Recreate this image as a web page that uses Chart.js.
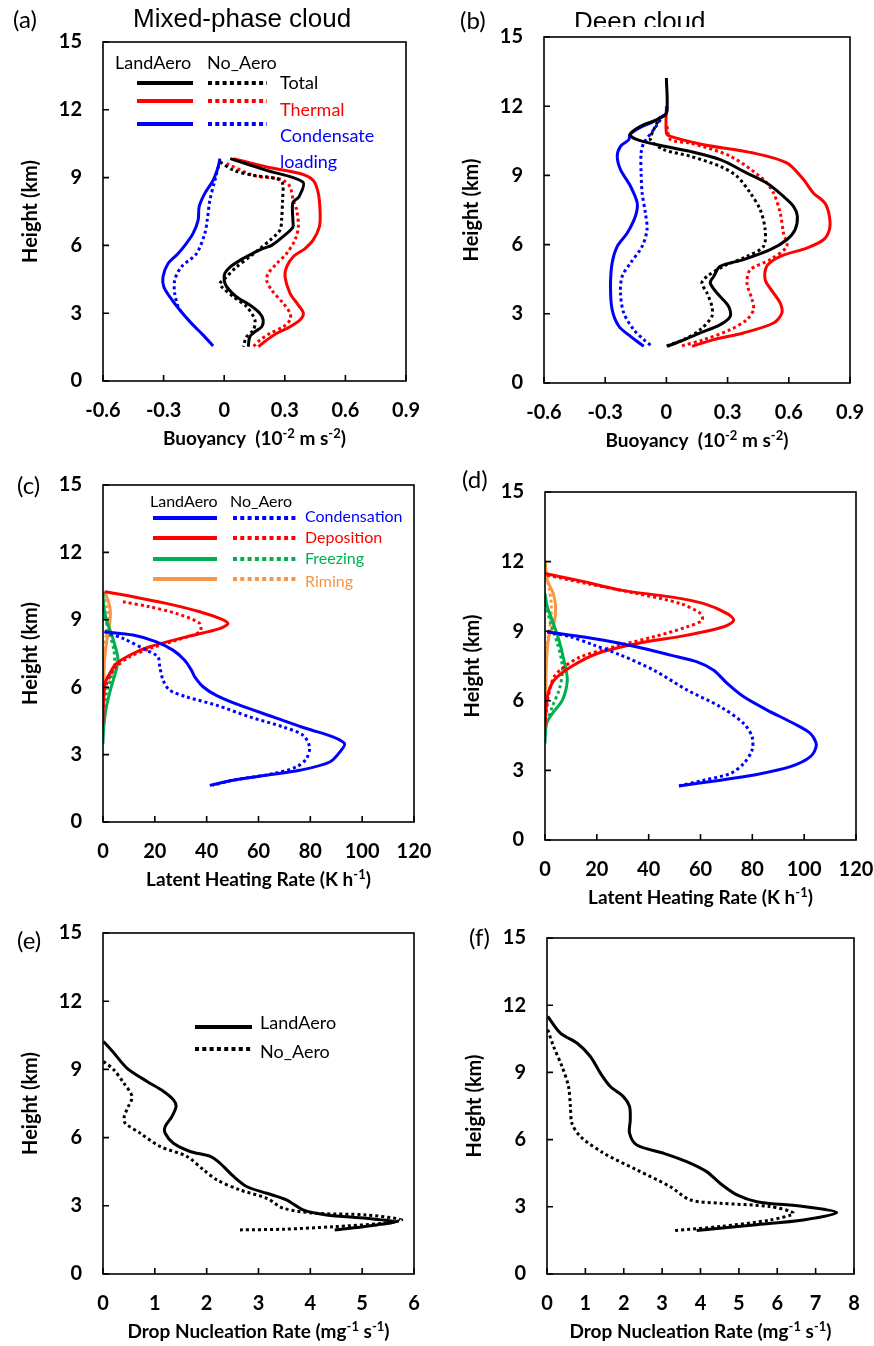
<!DOCTYPE html>
<html>
<head>
<meta charset="utf-8">
<script src="https://cdn.jsdelivr.net/npm/chart.js@4.4.0/dist/chart.umd.min.js"></script>
<style>
  body { margin: 0; background: #fff; width: 874px; height: 1346px; overflow: hidden; position: relative; font-family: Lato, sans-serif; }
  canvas { position: absolute; }
  .lbl { position: absolute; font-family: Lato, sans-serif; font-size: 24px; line-height: 24px; white-space: nowrap; }
  .ttl { position: absolute; font-family: "Liberation Sans", Arial, sans-serif; font-size: 26px; line-height: 26px; white-space: nowrap; }
  .clip { position: absolute; overflow: hidden; }
</style>
</head>
<body>
<canvas id="pa" width="426" height="435" style="left:0px;top:22px"></canvas>
<canvas id="pb" width="429" height="442" style="left:441px;top:17px"></canvas>
<canvas id="pc" width="434" height="433" style="left:0px;top:465px"></canvas>
<canvas id="pd" width="432" height="444" style="left:442px;top:472px"></canvas>
<canvas id="pe" width="434" height="437" style="left:0px;top:913px"></canvas>
<canvas id="pf" width="430" height="432" style="left:444px;top:918px"></canvas>

<div class="lbl" style="left:13px;top:7px">(a)</div>
<div class="ttl" style="left:133px;top:5px">Mixed-phase cloud</div>
<div class="lbl" style="left:460px;top:8px">(b)</div>
<div class="clip" style="left:570px;top:0px;width:200px;height:27px"><div class="ttl" style="left:4px;top:8px">Deep cloud</div></div>
<div class="lbl" style="left:17px;top:473px">(c)</div>
<div class="lbl" style="left:462px;top:467px">(d)</div>
<div class="lbl" style="left:17px;top:928px">(e)</div>
<div class="lbl" style="left:469px;top:925px">(f)</div>

<script>
// ---------------- data: [value, height km] ----------------
// (a) mixed-phase cloud buoyancy
const aTotalLand = [[0.03,9.84],[0.21,9.32],[0.39,8.80],[0.37,8.15],[0.34,7.90],[0.34,7.10],[0.34,6.80],[0.29,6.38],[0.235,6.00],[0.19,5.86],[0.14,5.64],[0.08,5.35],[0.03,5.05],[0.003,4.76],[0.0,4.46],[0.012,4.17],[0.06,3.73],[0.127,3.36],[0.177,2.99],[0.193,2.70],[0.186,2.40],[0.152,2.18],[0.127,1.96],[0.119,1.52]];
const aTotalNo = [[-0.02,9.69],[0.045,9.33],[0.144,9.10],[0.26,8.96],[0.289,8.74],[0.289,8.0],[0.284,7.12],[0.276,6.67],[0.227,6.23],[0.177,5.86],[0.127,5.5],[0.061,5.05],[0.012,4.61],[-0.021,4.32],[-0.013,4.17],[0.045,3.73],[0.111,3.29],[0.152,2.70],[0.144,2.25],[0.111,1.96],[0.094,1.52]];
const aThermLand = [[0.045,9.84],[0.21,9.47],[0.375,9.18],[0.44,8.88],[0.466,8.30],[0.475,7.41],[0.471,6.82],[0.44,6.23],[0.40,5.86],[0.342,5.5],[0.309,5.05],[0.301,4.61],[0.326,3.88],[0.367,3.36],[0.392,2.99],[0.375,2.70],[0.326,2.40],[0.26,2.11],[0.21,1.81],[0.169,1.52]];
const aThermNo = [[0.012,9.62],[0.144,9.10],[0.26,8.96],[0.293,8.88],[0.326,8.59],[0.342,8.0],[0.359,7.56],[0.367,6.82],[0.35,6.23],[0.309,5.64],[0.26,5.2],[0.218,4.76],[0.21,4.46],[0.235,4.02],[0.293,3.43],[0.326,2.99],[0.326,2.70],[0.293,2.40],[0.227,2.11],[0.177,1.81],[0.144,1.52]];
const aLoadLand = [[-0.021,9.84],[-0.03,9.47],[-0.055,8.88],[-0.096,8.30],[-0.124,7.71],[-0.129,7.12],[-0.154,6.53],[-0.187,6.09],[-0.228,5.64],[-0.278,5.20],[-0.303,4.61],[-0.299,4.17],[-0.27,3.73],[-0.22,3.14],[-0.162,2.55],[-0.104,2.03],[-0.055,1.55]];
const aLoadNo = [[-0.021,9.77],[-0.046,8.88],[-0.071,8.0],[-0.084,7.12],[-0.096,6.53],[-0.137,5.64],[-0.212,5.05],[-0.245,4.46],[-0.245,3.88],[-0.228,3.29],[-0.212,3.06]];

// (b) deep cloud buoyancy
const bTotalLand = [[0,13.22],[0,11.7],[-0.046,11.42],[-0.127,11.13],[-0.179,10.77],[-0.143,10.55],[-0.046,10.33],[0.117,10.04],[0.264,9.68],[0.395,9.10],[0.492,8.67],[0.574,8.09],[0.623,7.66],[0.642,7.23],[0.631,6.65],[0.59,6.21],[0.509,5.78],[0.378,5.35],[0.264,5.06],[0.232,4.62],[0.215,4.34],[0.248,3.90],[0.305,3.32],[0.313,2.89],[0.264,2.53],[0.166,2.17],[0.068,1.81],[0.003,1.59]];
const bTotalNo = [[-0.029,11.56],[-0.062,10.98],[-0.078,10.55],[-0.013,10.12],[0.117,9.83],[0.264,9.39],[0.346,8.96],[0.411,8.24],[0.46,7.51],[0.484,6.65],[0.476,5.92],[0.395,5.49],[0.28,5.06],[0.199,4.62],[0.174,4.34],[0.199,3.90],[0.223,3.32],[0.223,2.89],[0.166,2.31],[0.085,1.88],[-0.005,1.59]];
const bThermLand = [[0,12.0],[0,10.84],[0.02,10.69],[0.183,10.33],[0.427,9.97],[0.59,9.54],[0.672,8.82],[0.72,8.24],[0.777,7.80],[0.799,7.23],[0.799,6.65],[0.77,6.21],[0.688,5.85],[0.558,5.49],[0.492,5.06],[0.484,4.48],[0.525,3.90],[0.558,3.47],[0.566,3.03],[0.525,2.60],[0.378,2.17],[0.232,1.88],[0.126,1.59]];
const bThermNo = [[0.003,11.13],[0.02,10.55],[0.117,10.40],[0.313,9.83],[0.476,8.82],[0.525,8.24],[0.558,7.37],[0.574,6.50],[0.59,5.92],[0.509,5.35],[0.411,4.91],[0.395,4.34],[0.42,3.61],[0.427,3.18],[0.395,2.75],[0.313,2.31],[0.183,1.88],[0.068,1.59]];
const bLoadLand = [[0.003,12.0],[0,11.7],[-0.062,11.34],[-0.135,11.05],[-0.179,10.77],[-0.184,10.55],[-0.225,10.26],[-0.241,9.83],[-0.225,9.25],[-0.176,8.53],[-0.143,7.80],[-0.152,7.23],[-0.192,6.50],[-0.241,5.92],[-0.266,5.20],[-0.274,4.19],[-0.266,3.18],[-0.233,2.46],[-0.176,2.02],[-0.111,1.59]];
const bLoadNo = [[-0.013,11.63],[-0.062,10.98],[-0.111,10.40],[-0.124,9.97],[-0.124,9.10],[-0.119,8.24],[-0.103,7.37],[-0.095,6.65],[-0.119,5.92],[-0.176,5.20],[-0.217,4.62],[-0.225,3.90],[-0.209,3.03],[-0.16,2.31],[-0.111,1.88],[-0.07,1.59]];

// (c) mixed-phase latent heating
const cCondLand = [[0.6,8.47],[11.6,8.32],[20.6,8.02],[27.0,7.65],[31.5,7.20],[34.1,6.76],[35.4,6.46],[38.6,6.02],[43.7,5.64],[52.7,5.20],[65.6,4.68],[78.5,4.16],[88.7,3.79],[93.2,3.49],[91.9,3.19],[87.5,2.67],[75.9,2.30],[63.0,2.08],[50.2,1.86],[41.2,1.63]];
const cCondNo = [[0.6,8.47],[7.7,8.17],[16.7,7.65],[21.2,7.35],[21.9,6.91],[23.2,6.31],[25.7,5.87],[32.2,5.57],[43.7,5.20],[56.6,4.68],[69.5,4.23],[77.2,3.86],[79.7,3.34],[78.5,2.82],[74.6,2.45],[65.6,2.15],[50.2,1.86],[42.4,1.63]];
const cDepLand = [[0.6,10.25],[11.6,10.03],[24.4,9.73],[37.3,9.36],[45.0,9.06],[48.2,8.84],[45.0,8.61],[32.2,8.24],[18.0,7.80],[11.6,7.50],[5.1,7.05],[2.6,6.61],[1.0,6.24],[0.4,5.72],[0.1,5.12],[0,4.38]];
const cDepNo = [[7.7,9.80],[18.0,9.58],[28.3,9.28],[37.3,8.84],[37.3,8.47],[28.3,8.09],[18.0,7.72],[10.3,7.35],[5.1,6.91],[2.6,6.46],[0.6,5.87],[0.1,5.12]];
const cFrzLand = [[0,10.25],[0.3,9.58],[1.3,8.99],[3.2,8.39],[5.1,7.65],[5.8,7.20],[5.1,6.76],[3.2,6.02],[1.3,5.12],[0.3,4.23],[0,3.49]];
const cFrzNo = [[0.6,9.13],[2.6,8.39],[4.2,7.65],[4.5,7.05],[3.2,6.46],[1.3,5.72],[0.3,4.83]];
const cRimLand = [[0.6,10.25],[1.9,9.88],[2.8,9.43],[2.6,8.84],[1.5,8.09],[0.6,7.20],[0.3,6.02],[0,5.12]];
const cRimNo = [[0.3,10.18],[1.3,9.58],[1.9,9.13],[1.3,8.39],[0.5,7.50],[0.1,6.46]];

// (d) deep cloud latent heating
const dCondLand = [[0.9,8.97],[9.9,8.83],[22.7,8.61],[35.6,8.32],[48.4,7.97],[58.7,7.68],[65.1,7.32],[70.3,6.75],[76.7,6.17],[85.7,5.60],[96.0,5.02],[102.4,4.59],[104.7,4.09],[102.4,3.59],[94.7,3.16],[80.6,2.80],[67.7,2.58],[51.7,2.33]];
const dCondNo = [[0.9,8.97],[9.9,8.76],[18.9,8.40],[29.2,7.97],[42.0,7.32],[54.9,6.46],[67.7,5.74],[76.7,5.02],[79.9,4.45],[79.9,3.88],[76.7,3.30],[71.6,2.87],[61.3,2.58],[51.7,2.33]];
const dDepLand = [[0.3,11.48],[12.5,11.20],[29.2,10.77],[48.4,10.48],[61.3,10.19],[70.3,9.76],[72.8,9.47],[69.0,9.19],[54.9,8.83],[35.6,8.47],[20.2,8.04],[9.9,7.46],[3.5,6.89],[1.2,6.32],[0.4,5.60],[0,4.88]];
const dDepNo = [[0.9,11.41],[16.3,11.05],[35.6,10.62],[52.3,10.19],[60.0,9.76],[60.6,9.47],[54.9,9.19],[42.0,8.76],[26.6,8.33],[13.7,7.89],[7.3,7.46],[3.5,7.03],[1.5,6.32],[0.4,5.45]];
const dFrzLand = [[0,10.62],[0.9,10.05],[2.8,9.47],[5.4,8.61],[7.3,7.75],[8.6,6.89],[6.7,6.03],[2.8,5.45],[0.6,5.02],[0,4.16]];
const dFrzNo = [[0.3,10.19],[2.2,9.33],[4.8,8.47],[6.4,7.75],[6.7,7.18],[5.4,6.46],[2.8,5.74],[0.6,5.02]];
const dRimLand = [[0,12.06],[0.9,11.20],[3.2,10.62],[4.1,10.05],[3.5,9.33],[1.5,8.76],[0.6,7.75],[0.3,6.32],[0,5.17]];
const dRimNo = [[0,11.63],[1.5,10.91],[2.4,10.19],[2.2,9.47],[1.2,8.76],[0.4,7.75],[0,6.32]];

// (e)/(f) drop nucleation rate
const eLand = [[0.01,10.23],[0.21,9.72],[0.46,9.06],[0.85,8.47],[1.17,8.03],[1.36,7.66],[1.41,7.37],[1.33,6.93],[1.20,6.49],[1.20,6.19],[1.36,5.75],[1.68,5.39],[2.07,5.17],[2.26,4.87],[2.52,4.29],[2.77,3.85],[3.16,3.55],[3.54,3.26],[3.86,2.82],[4.31,2.60],[5.08,2.45],[5.63,2.30],[5.28,2.16],[4.76,2.01],[4.47,1.94]];
const eNo = [[0.01,9.35],[0.21,8.98],[0.40,8.40],[0.56,7.81],[0.49,7.37],[0.41,6.93],[0.43,6.63],[0.72,6.19],[1.10,5.61],[1.62,5.17],[1.94,4.58],[2.20,4.14],[2.64,3.70],[3.16,3.33],[3.48,2.89],[4.12,2.67],[5.08,2.60],[5.76,2.38],[5.40,2.23],[4.44,2.08],[3.48,1.97],[2.64,1.94]];
const fLand = [[0.02,11.50],[0.35,10.75],[0.78,10.31],[1.13,9.71],[1.39,8.97],[1.65,8.37],[1.99,7.92],[2.15,7.48],[2.17,6.88],[2.15,6.29],[2.34,5.76],[3.04,5.39],[3.64,5.02],[4.16,4.57],[4.51,4.05],[4.95,3.53],[5.47,3.23],[6.68,3.01],[7.55,2.74],[6.68,2.41],[5.38,2.19],[3.90,1.94]];
const fNo = [[0.02,10.90],[0.17,10.16],[0.39,9.27],[0.56,8.37],[0.61,7.48],[0.65,6.73],[0.87,6.14],[1.48,5.39],[2.34,4.65],[3.21,3.90],[3.73,3.31],[4.51,3.16],[5.81,3.01],[6.42,2.71],[5.81,2.41],[4.51,2.12],[3.30,1.94]];

// x-axis titles, [text, superscript?]
const titleBuoy = [["Buoyancy  (10", false], ["-2", true], [" m s", false], ["-2", true], [")", false]];
const titleHeat = [["Latent Heating Rate (K h", false], ["-1", true], [")", false]];
const titleNuc = [["Drop Nucleation Rate (mg", false], ["-1", true], [" s", false], ["-1", true], [")", false]];

const BLACK = "#000000", RED = "#ff0000", BLUE = "#0000ff", GREEN = "#00b050", ORANGE = "#f79646";

// ---------------- plugins ----------------
// box around plot area + short ticks pointing inward
const frame = {
    id: "frame",
    afterDraw(chart) {
        const { ctx, chartArea: a, scales } = chart;
        ctx.save();
        ctx.strokeStyle = "#000";
        ctx.lineWidth = 1.6;
        ctx.setLineDash([]);
        ctx.strokeRect(a.left, a.top, a.right - a.left, a.bottom - a.top);
        ctx.beginPath();
        scales.x.ticks.forEach((t) => {
            const px = scales.x.getPixelForValue(t.value);
            ctx.moveTo(px, a.bottom);
            ctx.lineTo(px, a.bottom - 6);
        });
        scales.y.ticks.forEach((t) => {
            const py = scales.y.getPixelForValue(t.value);
            ctx.moveTo(a.left, py);
            ctx.lineTo(a.left + 6, py);
        });
        ctx.stroke();
        ctx.restore();
    }
};

// x title with real superscripts
const richTitle = {
    id: "richTitle",
    afterDraw(chart, args, o) {
        if (!o || !o.parts) return;
        const { ctx, chartArea: a } = chart;
        const font = (sup) => "bold " + (sup ? 13 : 19) + "px Lato";
        let w = 0;
        o.parts.forEach((p) => { ctx.font = font(p[1]); w += ctx.measureText(p[0]).width; });
        let x = (a.left + a.right) / 2 - w / 2;
        const base = a.bottom + 64;
        ctx.save();
        ctx.fillStyle = "#000";
        ctx.textAlign = "left";
        ctx.textBaseline = "alphabetic";
        o.parts.forEach((p) => {
            ctx.font = font(p[1]);
            ctx.fillText(p[0], x, p[1] ? base - 7 : base);
            x += ctx.measureText(p[0]).width;
        });
        ctx.restore();
    }
};

// hand-laid legend (two columns of line samples + label)
const profLegend = {
    id: "profLegend",
    afterDraw(chart, args, o) {
        if (!o || !o.rows) return;
        const ctx = chart.ctx;
        const L = chart.chartArea.left, T = chart.chartArea.top;
        ctx.save();
        ctx.font = o.size + "px Lato";
        ctx.textBaseline = "middle";
        ctx.textAlign = "left";
        (o.header || []).forEach((h) => {
            ctx.fillStyle = "#000";
            ctx.fillText(h.text, L + h.x, T + o.headerY);
        });
        o.rows.forEach((r) => {
            ctx.strokeStyle = r.color;
            ctx.lineWidth = 4;
            if (r.solid) {
                ctx.setLineDash([]);
                ctx.beginPath();
                ctx.moveTo(L + o.solidX[0], T + r.y);
                ctx.lineTo(L + o.solidX[1], T + r.y);
                ctx.stroke();
            }
            if (r.dotted) {
                ctx.setLineDash([4, 3.3]);
                ctx.beginPath();
                ctx.moveTo(L + o.dotX[0], T + r.y);
                ctx.lineTo(L + o.dotX[1], T + r.y);
                ctx.stroke();
            }
            ctx.fillStyle = r.textColor || r.color;
            r.labels.forEach((lb) => ctx.fillText(lb[0], L + o.textX, T + lb[1]));
        });
        ctx.restore();
    }
};

Chart.register(frame, richTitle, profLegend);

// ---------------- helpers ----------------
function line(data, color, dotted) {
    return {
        data: data.map((p) => ({ x: p[0], y: p[1] })),
        showLine: true,
        borderColor: color,
        backgroundColor: color,
        borderWidth: 3,
        borderDash: dotted ? [3, 3] : [],
        pointRadius: 0,
        tension: 0.3,
        fill: false
    };
}

function makePanel(id, datasets, xr, titleParts, fmt, padRight, legend) {
    const tickFont = { family: "Lato", size: 20, weight: "bold" };
    new Chart(document.getElementById(id), {
        type: "scatter",
        data: { datasets: datasets },
        options: {
            responsive: false,
            animation: false,
            layout: { padding: { top: 20, right: padRight, left: 0, bottom: 0 } },
            plugins: {
                legend: { display: false },
                tooltip: { enabled: false },
                richTitle: { parts: titleParts },
                profLegend: legend || {}
            },
            scales: {
                x: {
                    type: "linear", min: xr[0], max: xr[1],
                    grid: { display: false, drawTicks: false }, border: { display: false },
                    ticks: { stepSize: xr[2], padding: 18, color: "#000", font: tickFont, maxRotation: 0, autoSkip: false, callback: fmt },
                    afterFit: (s) => { s.height = 76; s.paddingLeft = 0; s.paddingRight = 0; }
                },
                y: {
                    type: "linear", min: 0, max: 15,
                    grid: { display: false, drawTicks: false }, border: { display: false },
                    ticks: { stepSize: 3, padding: 21, color: "#000", font: tickFont, autoSkip: false },
                    title: { display: true, text: "Height (km)", color: "#000", font: { family: "Lato", size: 20, weight: "bold" }, padding: { top: 19, bottom: 0 } },
                    afterFit: (s) => { s.width = 103; s.paddingTop = 0; s.paddingBottom = 0; }
                }
            }
        }
    });
}

const fmtBuoy = (v) => (Math.abs(v) < 1e-9 ? "0" : v.toFixed(1));
const fmtInt = (v) => String(Math.round(v));

// ---------------- panels ----------------
makePanel("pa", [
    line(aTotalLand, BLACK, false), line(aTotalNo, BLACK, true),
    line(aThermLand, RED, false), line(aThermNo, RED, true),
    line(aLoadLand, BLUE, false), line(aLoadNo, BLUE, true)
], [-0.6, 0.9, 0.3], titleBuoy, fmtBuoy, 20, {
    size: 18, headerY: 21,
    header: [{ text: "LandAero", x: 12 }, { text: "No_Aero", x: 104 }],
    solidX: [34, 90], dotX: [105, 164], textX: 177,
    rows: [
        { color: BLACK, y: 41, solid: true, dotted: true, labels: [["Total", 41]] },
        { color: RED, y: 59, solid: true, dotted: true, labels: [["Thermal", 68]] },
        { color: BLUE, y: 82, solid: true, dotted: true, labels: [["Condensate", 94], ["loading", 120]] }
    ]
});

makePanel("pb", [
    line(bTotalLand, BLACK, false), line(bTotalNo, BLACK, true),
    line(bThermLand, RED, false), line(bThermNo, RED, true),
    line(bLoadLand, BLUE, false), line(bLoadNo, BLUE, true)
], [-0.6, 0.9, 0.3], titleBuoy, fmtBuoy, 20);

makePanel("pc", [
    line(cCondLand, BLUE, false), line(cCondNo, BLUE, true),
    line(cDepLand, RED, false), line(cDepNo, RED, true),
    line(cFrzLand, GREEN, false), line(cFrzNo, GREEN, true),
    line(cRimLand, ORANGE, false), line(cRimNo, ORANGE, true)
], [0, 120, 20], titleHeat, fmtInt, 20, {
    size: 16, headerY: 17,
    header: [{ text: "LandAero", x: 47 }, { text: "No_Aero", x: 127 }],
    solidX: [50, 114], dotX: [130, 194], textX: 202,
    rows: [
        { color: BLUE, y: 33, solid: true, dotted: true, labels: [["Condensation", 32]] },
        { color: RED, y: 53, solid: true, dotted: true, labels: [["Deposition", 53]] },
        { color: GREEN, y: 74, solid: true, dotted: true, labels: [["Freezing", 74]] },
        { color: ORANGE, y: 94, solid: true, dotted: true, labels: [["Riming", 97]] }
    ]
});

makePanel("pd", [
    line(dCondLand, BLUE, false), line(dCondNo, BLUE, true),
    line(dDepLand, RED, false), line(dDepNo, RED, true),
    line(dFrzLand, GREEN, false), line(dFrzNo, GREEN, true),
    line(dRimLand, ORANGE, false), line(dRimNo, ORANGE, true)
], [0, 120, 20], titleHeat, fmtInt, 18);

makePanel("pe", [
    line(eLand, BLACK, false), line(eNo, BLACK, true)
], [0, 6, 1], titleNuc, fmtInt, 20, {
    size: 18, headerY: 0, header: [],
    solidX: [92, 149], dotX: [92, 149], textX: 157,
    rows: [
        { color: BLACK, y: 94, solid: true, labels: [["LandAero", 90]], textColor: BLACK },
        { color: BLACK, y: 116, dotted: true, labels: [["No_Aero", 119]], textColor: BLACK }
    ]
});

makePanel("pf", [
    line(fLand, BLACK, false), line(fNo, BLACK, true)
], [0, 8, 1], titleNuc, fmtInt, 20);
</script>
</body>
</html>
